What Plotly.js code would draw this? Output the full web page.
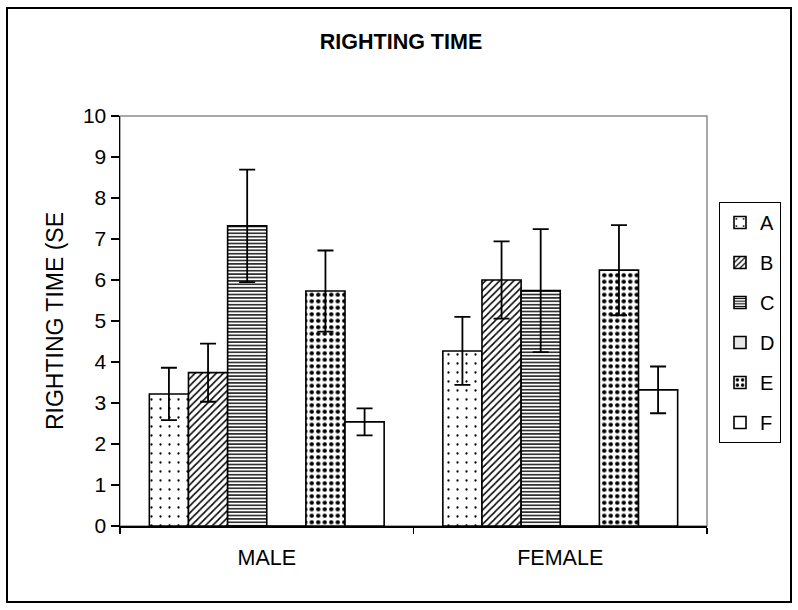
<!DOCTYPE html>
<html>
<head>
<meta charset="utf-8">
<script src="https://cdn.plot.ly/plotly-3.0.1.min.js"></script>
<style>
  html, body { margin: 0; padding: 0; background: #fff; }
  #chart { width: 798px; height: 610px; }
</style>
</head>
<body>
<div id="chart"></div>
<script>
// ---- data ----
const categories = ['MALE', 'FEMALE'];
const seriesNames = ['A', 'B', 'C', 'D', 'E', 'F'];
const valuesA = [3.22, 4.27];
const valuesB = [3.74, 6.00];
const valuesC = [7.32, 5.74];
const valuesD = [0, 0];
const valuesE = [5.73, 6.24];
const valuesF = [2.54, 3.32];
const errA = [0.64, 0.83];
const errB = [0.71, 0.94];
const errC = [1.37, 1.50];
const errD = [0, 0];
const errE = [0.99, 1.10];
const errF = [0.33, 0.57];
const yTickVals = [0, 1, 2, 3, 4, 5, 6, 7, 8, 9, 10];

const FONT = 'Liberation Sans, Arial, sans-serif';

const values = [valuesA, valuesB, valuesC, valuesD, valuesE, valuesF];
const errs = [errA, errB, errC, errD, errE, errF];
const patterns = [
  {shape: '.', size: 9, solidity: 0.05, fgcolor: '#000', bgcolor: '#fff', fillmode: 'replace'},
  {shape: '/', size: 5, solidity: 0.3, fgcolor: '#000', bgcolor: '#fff', fillmode: 'replace'},
  {shape: '-', size: 3.4, solidity: 0.4, fgcolor: '#000', bgcolor: '#fff', fillmode: 'replace'},
  null,
  {shape: '.', size: 6.5, solidity: 0.36, fgcolor: '#000', bgcolor: '#fff', fillmode: 'replace'},
  null
];
const fills = ['#fff', '#fff', '#fff', '#e6e6e6', '#fff', '#fff'];

const traces = seriesNames.map((name, i) => {
  const marker = {color: fills[i], line: {color: '#000', width: 1.6}};
  if (patterns[i]) marker.pattern = patterns[i];
  const t = {
    type: 'bar',
    name: name,
    legendgroup: name,
    x: categories,
    y: values[i],
    marker: marker,
    hoverinfo: 'skip'
  };
  if (name !== 'D') {
    t.error_y = {type: 'data', array: errs[i], visible: true, color: '#000', thickness: 1.8, width: 8};
  }
  return t;
});

const L = 120, R = 91, T = 116, B = 84;
const PW = 798 - L - R, PH = 610 - T - B;
const px = v => (v - L) / PW;
const py = v => (610 - B - v) / PH;

const layout = {
  width: 798,
  height: 610,
  margin: {l: L, r: R, t: T, b: B},
  paper_bgcolor: '#fff',
  plot_bgcolor: '#fff',
  barmode: 'group',
  bargap: 0.2,
  bargroupgap: 0,
  font: {family: FONT, color: '#000', size: 20},
  title: {
    text: '<b>RIGHTING TIME</b>',
    font: {family: FONT, size: 21.5, color: '#000'},
    x: 401 / 798, xanchor: 'center',
    y: 1 - 41 / 610, yanchor: 'middle'
  },
  xaxis: {
    type: 'category',
    showline: true, linecolor: '#000', linewidth: 1.5,
    ticks: 'outside', tickson: 'boundaries', ticklen: 6, tickcolor: '#000', tickwidth: 1.2,
    tickfont: {family: FONT, size: 21.5, color: '#000'},
    ticklabelstandoff: 12,
    showgrid: false, zeroline: false, fixedrange: true
  },
  yaxis: {
    range: [0, 10],
    tickvals: yTickVals,
    showline: true, linecolor: '#000', linewidth: 1.5,
    ticks: 'outside', ticklen: 8, tickcolor: '#000', tickwidth: 1.2,
    tickfont: {family: FONT, size: 21, color: '#000'},
    showgrid: false, zeroline: false, fixedrange: true,
    title: {text: 'RIGHTING TIME (SE', font: {family: FONT, size: 23, color: '#000'}, standoff: 13}
  },
  legend: {
    x: px(719), xanchor: 'left',
    y: py(202), yanchor: 'top',
    bgcolor: '#fff', bordercolor: '#000', borderwidth: 1,
    font: {family: FONT, size: 20, color: '#000'},
    traceorder: 'grouped',
    tracegroupgap: 11,
    itemclick: false, itemdoubleclick: false
  },
  shapes: [
    {type: 'rect', xref: 'paper', yref: 'paper', x0: 0, x1: 1, y0: 0, y1: 1,
     line: {color: '#8c8c8c', width: 1.5}, layer: 'below'},
    {type: 'rect', xref: 'paper', yref: 'paper', x0: px(7), x1: px(791), y0: py(602), y1: py(8),
     line: {color: '#000', width: 2}, layer: 'below'}
  ],
  showlegend: true
};

Plotly.newPlot('chart', traces, layout, {displayModeBar: false, staticPlot: true});
</script>
</body>
</html>
